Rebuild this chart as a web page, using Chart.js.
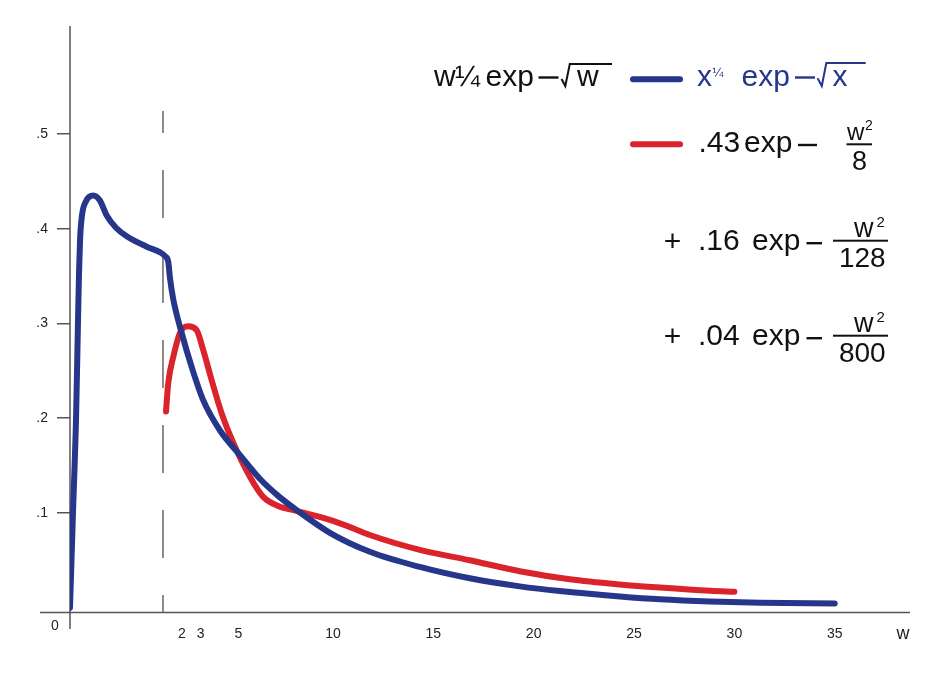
<!DOCTYPE html>
<html>
<head>
<meta charset="utf-8">
<script src="https://cdn.jsdelivr.net/npm/chart.js@4/dist/chart.umd.min.js"></script>
<style>
  html, body { margin: 0; background: #fff; }
</style>
</head>
<body>
<canvas id="densityChart" width="932" height="683"></canvas>
<script>
// w^(1/4) exp(-sqrt w) curve
const wBlue = [0, 0.016, 0.032, 0.065, 0.086, 0.097, 0.108, 0.129, 0.172, 0.25, 0.32, 0.395, 0.495, 0.61, 0.825, 0.97, 1.11, 1.28, 1.37, 1.55, 1.99, 2.52, 3.13, 4.02, 5.08, 6.13, 7.1, 8.08, 9.84, 11.84, 14.33, 16.82, 19.31, 21.3, 24.3, 26.3, 28.8, 31.3, 35];
const yBlue = [0, 0.05, 0.1, 0.2, 0.302, 0.353, 0.388, 0.414, 0.429, 0.435, 0.43, 0.414, 0.401, 0.392, 0.381, 0.375, 0.371, 0.365, 0.348, 0.325, 0.29, 0.254, 0.219, 0.187, 0.161, 0.136, 0.118, 0.103, 0.079, 0.059, 0.043, 0.031, 0.0225, 0.0175, 0.0118, 0.0088, 0.0065, 0.0052, 0.0044];

// sum of three gaussians
const wRed = [1.16, 1.28, 1.55, 1.9, 2.34, 2.78, 3.13, 3.58, 4.11, 4.72, 5.61, 6.31, 7.19, 7.9, 9.84, 11.0, 11.84, 14.33, 16.82, 19.31, 21.8, 24.3, 26.3, 28.8, 30];
const yRed = [0.207, 0.237, 0.265, 0.29, 0.297, 0.293, 0.272, 0.24, 0.205, 0.174, 0.138, 0.117, 0.1066, 0.103, 0.0926, 0.0838, 0.0767, 0.061, 0.05, 0.0385, 0.03, 0.0245, 0.0212, 0.0178, 0.0168];

const xTickValues = [2, 3, 5, 10, 15, 20, 25, 30, 35];
const yTickValues = [0.1, 0.2, 0.3, 0.4, 0.5];
const breakAt = 1;

const BLUE = '#25368b';
const RED = '#db232c';
const AXIS = '#555';
const INK = '#111';
const FONT = '"Liberation Sans", Arial, sans-serif';

// linear axis with a stretched segment near the origin
class BrokenScale extends Chart.LinearScale {
  static id = 'broken';
  warp(v) {
    const k = this.options.knots;
    let i = 0;
    while (i < k.length - 2 && v > k[i + 1][0]) i++;
    const [a0, b0] = k[i], [a1, b1] = k[i + 1];
    return b0 + (v - a0) * (b1 - b0) / (a1 - a0);
  }
  unwarp(u) {
    const k = this.options.knots;
    let i = 0;
    while (i < k.length - 2 && u > k[i + 1][1]) i++;
    const [a0, b0] = k[i], [a1, b1] = k[i + 1];
    return a0 + (u - b0) * (a1 - a0) / (b1 - b0);
  }
  getPixelForValue(value) {
    const lo = this.warp(this.min), hi = this.warp(this.max);
    return this.left + (this.warp(value) - lo) / (hi - lo) * this.width;
  }
  getValueForPixel(pixel) {
    const lo = this.warp(this.min), hi = this.warp(this.max);
    return this.unwarp(lo + (pixel - this.left) / this.width * (hi - lo));
  }
}
Chart.register(BrokenScale);

function text(ctx, s, x, yb, size, color, align) {
  ctx.font = size + 'px ' + FONT;
  ctx.fillStyle = color;
  ctx.textAlign = align || 'left';
  ctx.textBaseline = 'alphabetic';
  ctx.fillText(s, x, yb);
}
function minus(ctx, x1, x2, ym, color) {
  ctx.fillStyle = color;
  ctx.fillRect(x1, ym - 1.2, x2 - x1, 2.4);
}
function bar(ctx, x1, x2, ym, color) {
  ctx.fillStyle = color;
  ctx.fillRect(x1, ym - 1, x2 - x1, 2);
}
function radical(ctx, x, top, base, end, color) {
  ctx.strokeStyle = color;
  ctx.lineWidth = 2;
  ctx.lineJoin = 'miter';
  ctx.beginPath();
  ctx.moveTo(x, base - 7);
  ctx.lineTo(x + 3.8, base);
  ctx.lineTo(x + 8.3, top);
  ctx.lineTo(end, top);
  ctx.stroke();
}
function swatch(ctx, x1, x2, ym, color) {
  ctx.strokeStyle = color;
  ctx.lineWidth = 6;
  ctx.lineCap = 'round';
  ctx.beginPath();
  ctx.moveTo(x1 + 3, ym);
  ctx.lineTo(x2 - 3, ym);
  ctx.stroke();
}

const decorations = {
  id: 'decorations',
  beforeDatasetsDraw(chart) {
    const { ctx, chartArea, scales: { x } } = chart;
    const x0 = x.getPixelForValue(0);
    const yb = chartArea.bottom;
    ctx.save();
    ctx.strokeStyle = AXIS;
    ctx.lineWidth = 1.5;
    ctx.beginPath();
    ctx.moveTo(40, yb); ctx.lineTo(910, yb);
    ctx.moveTo(x0, chartArea.top); ctx.lineTo(x0, 629);
    ctx.stroke();
    // separator at w = 1
    const xs = x.getPixelForValue(breakAt);
    ctx.strokeStyle = '#666';
    ctx.setLineDash([48, 37]);
    ctx.lineDashOffset = 26;
    ctx.beginPath();
    ctx.moveTo(xs, 111); ctx.lineTo(xs, yb);
    ctx.stroke();
    ctx.restore();
  },
  afterDraw(chart) {
    const { ctx } = chart;
    ctx.save();
    text(ctx, '0', 55, 630, 14, '#222', 'center');
    text(ctx, 'w', 903, 639, 18, '#222', 'center');

    // first line: black and blue formula
    const S = 30;
    text(ctx, 'w', 434, 86, S, INK);
    text(ctx, '¼', 455, 86, S, INK);
    text(ctx, 'exp', 485.5, 86, S, INK);
    minus(ctx, 538.5, 558.5, 77.5, INK);
    radical(ctx, 561.5, 64, 86, 612, INK);
    text(ctx, 'w', 577, 86, S, INK);

    swatch(ctx, 630, 683, 79.3, BLUE);
    text(ctx, 'x', 697, 86, S, BLUE);
    text(ctx, '¼', 712.5, 77, 13, BLUE);
    text(ctx, 'exp', 741.5, 86, S, BLUE);
    minus(ctx, 795, 815, 77.5, BLUE);
    radical(ctx, 818, 63, 86, 865, BLUE);
    text(ctx, 'x', 832.5, 86, S, BLUE);

    // second line: first gaussian
    swatch(ctx, 630, 683, 144.3, RED);
    text(ctx, '.43', 698.5, 151.7, S, INK);
    text(ctx, 'exp', 744, 151.7, S, INK);
    minus(ctx, 798, 817, 145, INK);
    bar(ctx, 846.5, 872, 144.3, INK);
    text(ctx, 'w', 847, 140, 24, INK);
    text(ctx, '2', 865, 130, 14, INK);
    text(ctx, '8', 859.5, 170, 27, INK, 'center');

    // third and fourth lines
    const rows = [['.16', '128', 250, 240.7], ['.04', '800', 345, 335.7]];
    rows.forEach(([c, d, base, mid]) => {
      text(ctx, '+', 672.5, base + 1, S, INK, 'center');
      text(ctx, c, 698, base, S, INK);
      text(ctx, 'exp', 752, base, S, INK);
      minus(ctx, 806.5, 822, mid + 2.5, INK);
      bar(ctx, 833, 888, mid, INK);
      text(ctx, 'w', 854, mid - 4, 27, INK);
      text(ctx, '2', 876.5, mid - 14, 15, INK);
      text(ctx, d, 862.3, mid + 26, 28, INK, 'center');
    });
    ctx.restore();
  }
};

const ctx = document.getElementById('densityChart').getContext('2d');
new Chart(ctx, {
  type: 'line',
  data: {
    datasets: [
      {
        label: 'w¼ exp−√w',
        data: wBlue.map((w, i) => ({ x: w, y: yBlue[i] })),
        borderColor: BLUE,
        borderWidth: 6,
        borderCapStyle: 'round',
        borderJoinStyle: 'round',
        cubicInterpolationMode: 'monotone',
        pointRadius: 0,
        fill: false
      },
      {
        label: '.43 exp−w²/8 + .16 exp−w²/128 + .04 exp−w²/800',
        data: wRed.map((w, i) => ({ x: w, y: yRed[i] })),
        borderColor: RED,
        borderWidth: 6,
        borderCapStyle: 'round',
        borderJoinStyle: 'round',
        cubicInterpolationMode: 'monotone',
        pointRadius: 0,
        fill: false
      }
    ]
  },
  options: {
    responsive: false,
    animation: false,
    layout: { padding: { top: 26, right: 27, left: 0, bottom: 0 } },
    plugins: { legend: { display: false }, tooltip: { enabled: false } },
    scales: {
      x: {
        type: 'broken',
        knots: [[0, 0], [1, 93], [10, 263], [35, 765]],
        min: 0,
        max: 38.5,
        grid: { display: false },
        border: { display: false },
        afterFit: s => { s.height = 70.5; },
        afterBuildTicks: s => { s.ticks = xTickValues.map(v => ({ value: v })); },
        ticks: {
          autoSkip: false,
          maxRotation: 0,
          padding: 5,
          color: '#222',
          font: { family: FONT, size: 14 },
          callback: v => String(v)
        }
      },
      y: {
        min: -0.0051,
        max: 0.6139,
        grid: { drawOnChartArea: false, drawTicks: true, tickLength: 13, color: AXIS, lineWidth: 1.5 },
        border: { display: false },
        afterFit: s => { s.width = 70; },
        afterBuildTicks: s => { s.ticks = yTickValues.map(v => ({ value: v })); },
        ticks: {
          padding: 9,
          color: '#222',
          font: { family: FONT, size: 14 },
          callback: v => String(v).replace(/^0/, '')
        }
      }
    }
  },
  plugins: [decorations]
});
</script>
</body>
</html>
